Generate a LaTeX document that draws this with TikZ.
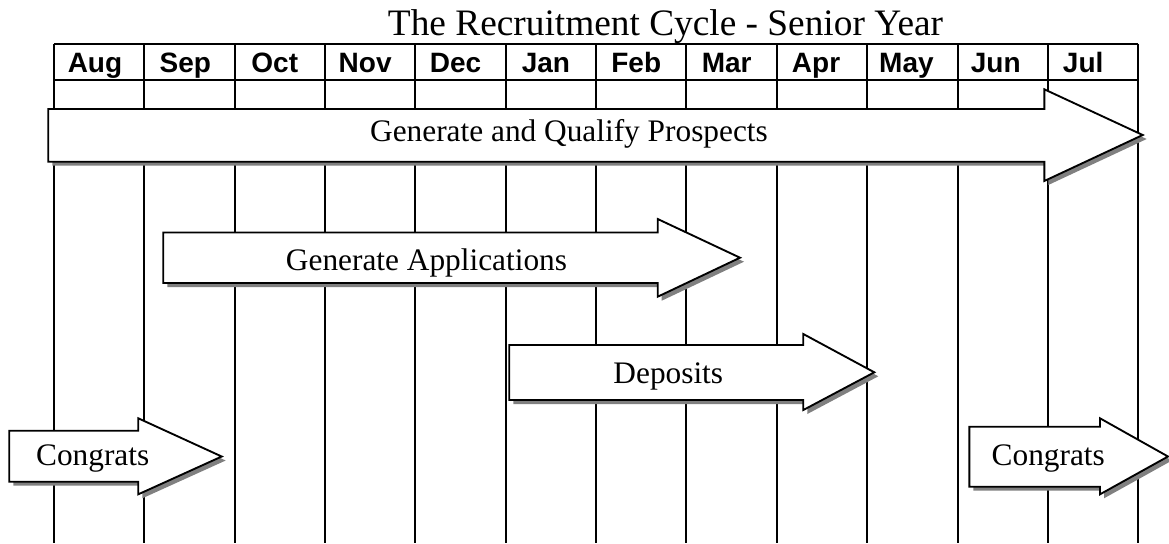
\documentclass[tikz,border=0pt]{standalone}
\usepackage{fontspec}
\setmainfont{Liberation Serif}
\newfontfamily\monthfont{Liberation Sans}

% block arrow with drop shadow:
% #1 left x, #2 body top, #3 body bottom, #4 head x, #5 head top,
% #6 head bottom, #7 tip x, #8 tip y
\newcommand\flowarrow[8]{%
  \fill[flowshadow,shift={(4,4)}] (#1,#2) -- (#4,#2) -- (#4,#5) -- (#7,#8)
    -- (#4,#6) -- (#4,#3) -- (#1,#3) -- cycle;
  \draw[flow] (#1,#2) -- (#4,#2) -- (#4,#5) -- (#7,#8)
    -- (#4,#6) -- (#4,#3) -- (#1,#3) -- cycle;}

\begin{document}
\begin{tikzpicture}[x=0.75pt,y=-0.75pt,
  gridline/.style={line width=1.5pt},
  flow/.style={draw=black,fill=white,line width=1.4pt,line join=miter},
  flowshadow/.style={fill=black!50,draw=none},
  month/.style={font=\monthfont\bfseries\fontsize{21}{21}\selectfont,anchor=base,inner sep=0pt},
  label/.style={font=\fontsize{23.5}{24}\selectfont,anchor=base,inner sep=0pt},
  heading/.style={font=\fontsize{28}{28}\selectfont,anchor=base,inner sep=0pt}]
\useasboundingbox (0,0) rectangle (1169,543);

% month grid
\foreach \i in {0,...,12}
  \draw[gridline] ({53.8+\i*90.38},43.7) -- ({53.8+\i*90.38},543);
\draw[gridline] (53.8,80) -- (1138.4,80);
\draw[gridline] (53.8,43.7) -- (1138.4,43.7);

\foreach \m/\dx [count=\i from 0] in {Aug/-4,Sep/-4,Oct/-5,Nov/-5,Dec/-5,Jan/-5,Feb/-5,Mar/-5,Apr/-6,May/-6,Jun/-7,Jul/-10}
  \node[month] (m\m) at ({53.8+\i*90.38+45.19+\dx},72) {\m};

\node[heading] (title) at (665.5,35) {The Recruitment Cycle - Senior Year};

% phases
\flowarrow{48.3}{109}{161.7}{1044.3}{89.3}{181}{1142.7}{135}
\node[label] (prospects) at (569,141) {Generate and Qualify Prospects};

\flowarrow{163.3}{232.5}{283}{657.7}{219}{296.7}{740}{257.7}
\node[label] (applications) at (426.5,270) {Generate Applications};

\flowarrow{509.3}{345}{400}{803.3}{334}{410}{874.3}{372.3}
\node[label] (deposits) at (668.3,383.3) {Deposits};

\flowarrow{9.3}{430.7}{481.7}{138.3}{418.3}{494.3}{221.7}{456.5}
\node[label] (congratsA) at (92.7,465) {Congrats};

\flowarrow{969.3}{426.7}{486.7}{1100}{418.3}{494.3}{1168}{456.5}
\node[label] (congratsB) at (1048.3,465) {Congrats};
\end{tikzpicture}
\end{document}
